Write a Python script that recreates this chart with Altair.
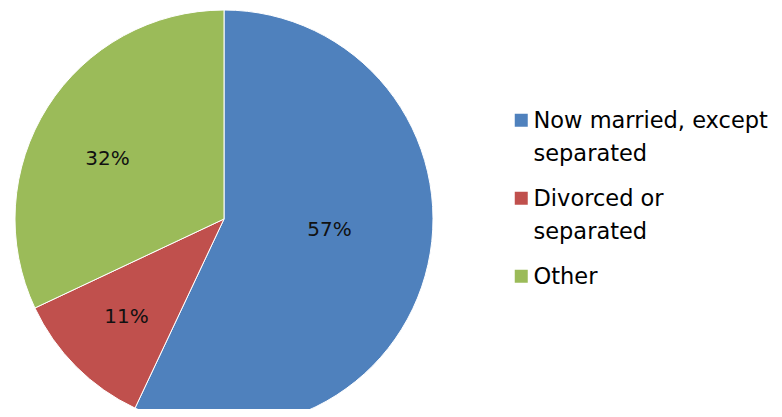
import altair as alt
import pandas as pd

categories = ["Now married, except separated", "Divorced or separated", "Other"]
legend_lines = [["Now married, except", "separated"], ["Divorced or", "separated"], ["Other"]]
values = [57, 11, 32]
labels = ["57%", "11%", "32%"]
colors = ["#4F81BD", "#C0504D", "#9BBB59"]

df = pd.DataFrame({
    "category": categories,
    "value": values,
    "label": labels,
    "order": list(range(len(categories))),
})

# build multi-line legend label expression
expr = "datum.label"
for cat, lines in reversed(list(zip(categories, legend_lines))):
    arr = "[" + ",".join("'" + l + "'" for l in lines) + "]"
    expr = f"datum.label == '{cat}' ? {arr} : ({expr})"

CX, CY, R = 216, 211, 209

base = alt.Chart(df).encode(
    theta=alt.Theta("value:Q", stack=True),
    order=alt.Order("order:Q"),
    x=alt.value(CX),
    y=alt.value(CY),
)

pie = base.mark_arc(radius=R, stroke="white", strokeWidth=1).encode(
    color=alt.Color(
        "category:N",
        scale=alt.Scale(domain=categories, range=colors),
        sort=categories,
        legend=alt.Legend(
            title=None,
            orient="none",
            legendX=502,
            legendY=101,
            symbolType="square",
            symbolSize=169,
            symbolStrokeWidth=0,
            labelFont="DejaVu Sans",
            labelFontSize=22.5,
            labelColor="#000000",
            labelExpr=expr,
            labelLimit=400,
            labelOffset=1,
            labelBaseline="top",
            rowPadding=21,
            padding=0,
        ),
    )
)

text = base.mark_text(
    font="DejaVu Sans",
    fontSize=20,
    color="#111111",
    radius=alt.expr("datum.value > 50 ? 108 : 138"),
    dy=alt.expr("datum.value > 50 ? -13 : (datum.value > 20 ? 14 : 0)"),
).encode(text="label:N")

chart = (pie + text).properties(
    width=766, height=401, padding=0, background="white",
    autosize=alt.AutoSizeParams(type="none"),
).configure(
    style={"guide-label": {"lineHeight": 33, "dy": -10}}
).configure_view(strokeWidth=0, stroke=None)

chart.save("out.html", embed_options={"renderer": "svg", "actions": False})
